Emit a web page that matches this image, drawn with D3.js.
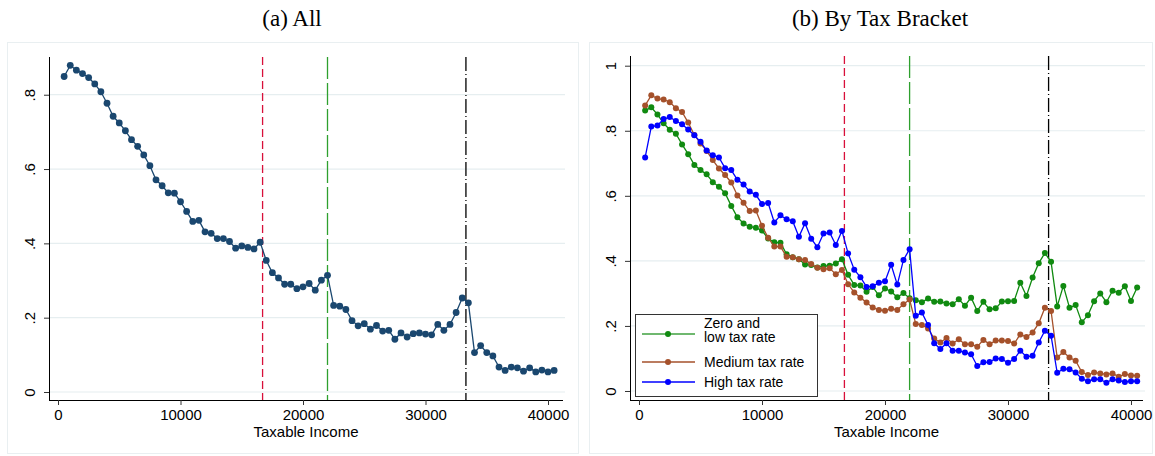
<!DOCTYPE html>
<html>
<head>
<meta charset="utf-8">
<script src="https://cdnjs.cloudflare.com/ajax/libs/d3/7.8.5/d3.min.js"></script>
<style>
  body { margin: 0; background: #fff; }
  svg text { font-family: "Liberation Sans", Arial, sans-serif; fill: #000; }
  .title { font-family: "Liberation Serif", "DejaVu Serif", serif; }
</style>
</head>
<body>
<svg id="chart" width="1155" height="456"></svg>
<script>
// taxable income bins (bin midpoints)
var income = [500,1000,1500,2000,2500,3000,3500,4000,4500,5000,5500,6000,6500,7000,7500,8000,8500,9000,9500,10000,
  10500,11000,11500,12000,12500,13000,13500,14000,14500,15000,15500,16000,16500,17000,17500,18000,18500,19000,19500,20000,
  20500,21000,21500,22000,22500,23000,23500,24000,24500,25000,25500,26000,26500,27000,27500,28000,28500,29000,29500,30000,
  30500,31000,31500,32000,32500,33000,33500,34000,34500,35000,35500,36000,36500,37000,37500,38000,38500,39000,39500,40000,40500];

// (a) all
var allShare = [0.849,0.879,0.866,0.857,0.846,0.829,0.808,0.777,0.742,0.724,0.703,0.679,0.661,0.638,0.609,0.571,0.555,0.536,0.535,0.512,
  0.486,0.459,0.462,0.431,0.427,0.413,0.413,0.405,0.387,0.393,0.389,0.385,0.403,0.354,0.321,0.307,0.290,0.290,0.278,0.283,
  0.292,0.274,0.301,0.314,0.233,0.231,0.222,0.192,0.178,0.184,0.169,0.179,0.164,0.166,0.142,0.159,0.148,0.157,0.159,0.156,
  0.154,0.182,0.166,0.182,0.214,0.253,0.240,0.106,0.125,0.106,0.097,0.067,0.058,0.067,0.065,0.056,0.065,0.054,0.059,0.054,0.058];

// (b) by tax bracket
var lowRate = [0.862,0.872,0.850,0.823,0.803,0.791,0.758,0.728,0.695,0.679,0.666,0.642,0.628,0.608,0.569,0.534,0.515,0.505,0.502,0.493,
  0.469,0.457,0.456,0.420,0.411,0.405,0.389,0.387,0.380,0.384,0.385,0.392,0.405,0.357,0.326,0.324,0.305,0.320,0.294,0.315,
  0.306,0.288,0.301,0.285,0.279,0.273,0.284,0.274,0.275,0.269,0.267,0.282,0.262,0.287,0.246,0.274,0.251,0.254,0.275,0.276,
  0.277,0.333,0.292,0.349,0.393,0.424,0.397,0.260,0.323,0.256,0.264,0.211,0.233,0.276,0.300,0.273,0.308,0.302,0.322,0.277,0.318];
var mediumRate = [0.878,0.909,0.899,0.896,0.888,0.869,0.858,0.825,0.787,0.761,0.738,0.710,0.684,0.664,0.641,0.601,0.579,0.553,0.555,0.508,
  0.471,0.444,0.444,0.413,0.411,0.405,0.403,0.390,0.379,0.374,0.377,0.359,0.372,0.328,0.303,0.287,0.272,0.257,0.249,0.247,
  0.253,0.249,0.267,0.281,0.206,0.203,0.192,0.161,0.149,0.163,0.146,0.159,0.144,0.144,0.136,0.157,0.144,0.155,0.155,0.154,
  0.146,0.174,0.166,0.180,0.208,0.256,0.246,0.103,0.120,0.103,0.093,0.058,0.049,0.057,0.054,0.051,0.054,0.044,0.052,0.048,0.047];
var highRate = [0.718,0.813,0.816,0.836,0.842,0.830,0.820,0.804,0.786,0.766,0.739,0.725,0.718,0.685,0.679,0.649,0.635,0.613,0.603,0.575,
  0.578,0.518,0.540,0.528,0.522,0.474,0.516,0.468,0.442,0.484,0.487,0.449,0.492,0.423,0.373,0.350,0.320,0.322,0.333,0.337,
  0.388,0.327,0.403,0.436,0.231,0.241,0.203,0.147,0.129,0.147,0.124,0.124,0.118,0.113,0.077,0.088,0.089,0.100,0.098,0.087,
  0.098,0.124,0.105,0.108,0.149,0.185,0.170,0.056,0.068,0.067,0.057,0.038,0.030,0.036,0.036,0.025,0.036,0.032,0.028,0.030,0.030];

var seriesNames = ["Zero and\nlow tax rate", "Medium tax rate", "High tax rate"];
var seriesColors = ["#108a10", "#a5512b", "#0000ff"];

// bracket thresholds
var thresholds = [16700, 22000, 33300];
var thresholdColors = ["#d8103a", "#2ea02e", "#000000"];
var thresholdDash = ["8,4", "22,4", "14,3,1,3"];

var xTicks = [0, 10000, 20000, 30000, 40000];
var yTicksA = [0, 0.2, 0.4, 0.6, 0.8];
var yTicksB = [0, 0.2, 0.4, 0.6, 0.8, 1];
var yTickLabel = function (d) { return d === 0 ? "0" : d === 1 ? "1" : String(d).replace("0.", "."); };

var svg = d3.select("#chart");

function drawPanel(p) {
  var g = svg.append("g");

  // outer frame
  g.append("rect")
    .attr("x", p.frame[0] + 0.5).attr("y", p.frame[1] + 0.5)
    .attr("width", p.frame[2]).attr("height", p.frame[3])
    .attr("fill", "#fff").attr("stroke", "#e9eff1");

  g.append("text").attr("class", "title")
    .attr("x", p.titleX).attr("y", 26)
    .attr("text-anchor", "middle")
    .style("font-size", "23px")
    .text(p.title);

  var x = d3.scaleLinear().domain(p.xDomain).range([p.left, p.right]);
  var y = d3.scaleLinear().domain(p.yDomain).range([p.bottom, p.top]);

  // grid
  g.selectAll("line.grid").data(p.yTicks).enter().append("line")
    .attr("class", "grid")
    .attr("x1", p.left).attr("x2", p.right + 2)
    .attr("y1", function (d) { return y(d); }).attr("y2", function (d) { return y(d); })
    .attr("stroke", "#e6eef0").attr("stroke-width", 1.2);

  // y axis, labels rotated like stata
  var yAxis = d3.axisLeft(y).tickValues(p.yTicks).tickFormat(yTickLabel).tickSizeOuter(0).tickSize(5);
  var ya = g.append("g").attr("transform", "translate(" + p.left + ",0)").call(yAxis);
  ya.selectAll(".tick text")
    .attr("x", 0).attr("dy", null)
    .attr("text-anchor", "middle")
    .attr("transform", "translate(-14,0) rotate(-90)")
    .attr("dy", "0em")
    .style("font-size", "15px");
  ya.select(".domain").attr("d", "M0.5," + p.top + "V" + p.bottom).attr("stroke", "#000");

  var xAxis = d3.axisBottom(x).tickValues(xTicks).tickFormat(d3.format("d")).tickSizeOuter(0).tickSize(5).tickPadding(4);
  var xa = g.append("g").attr("transform", "translate(0," + p.bottom + ")").call(xAxis);
  xa.selectAll("text").style("font-size", "15px");
  xa.select(".domain").attr("d", "M" + p.left + ",0.5H" + p.right).attr("stroke", "#000");
  ya.selectAll(".tick line").attr("stroke", "#333");
  xa.selectAll(".tick line").attr("stroke", "#333");

  g.append("text")
    .attr("x", (p.left + p.right) / 2).attr("y", 437)
    .attr("text-anchor", "middle")
    .style("font-size", "15px")
    .text("Taxable Income");

  // bracket lines
  g.selectAll("line.thr").data(thresholds).enter().append("line")
    .attr("class", "thr")
    .attr("x1", function (d) { return x(d); }).attr("x2", function (d) { return x(d); })
    .attr("y1", p.top).attr("y2", p.bottom)
    .attr("stroke", function (d, i) { return thresholdColors[i]; })
    .attr("stroke-width", 1.3)
    .attr("stroke-dasharray", function (d, i) { return thresholdDash[i]; });

  var line = d3.line()
    .x(function (d) { return x(d[0]); })
    .y(function (d) { return y(d[1]); });

  p.series.forEach(function (s) {
    var pts = income.map(function (v, i) { return [v, s.values[i]]; });
    g.append("path").datum(pts)
      .attr("d", line).attr("fill", "none")
      .attr("stroke", s.color).attr("stroke-width", 1.3);
    g.selectAll(null).data(pts).enter().append("circle")
      .attr("cx", function (d) { return x(d[0]); })
      .attr("cy", function (d) { return y(d[1]); })
      .attr("r", p.r).attr("fill", s.color);
  });

  return { g: g, x: x, y: y };
}

// panel (a)
drawPanel({
  frame: [7, 42, 571, 411],
  title: "(a) All", titleX: 292,
  left: 49, right: 563, top: 57, bottom: 400,
  xDomain: [-735, 41224], yDomain: [-0.0215, 0.9015],
  yTicks: yTicksA, r: 3.4,
  series: [{ values: allShare, color: "#1a476f" }]
});

// panel (b)
var pb = drawPanel({
  frame: [589, 42, 563, 411],
  title: "(b) By Tax Bracket", titleX: 880,
  left: 630, right: 1143, top: 56, bottom: 400,
  xDomain: [-732, 40976], yDomain: [-0.0277, 1.0298],
  yTicks: yTicksB, r: 3,
  series: [
    { values: lowRate, color: seriesColors[0] },
    { values: mediumRate, color: seriesColors[1] },
    { values: highRate, color: seriesColors[2] }
  ]
});

// legend
var leg = pb.g.append("g").attr("transform", "translate(635,314)");
leg.append("rect").attr("x", 0.5).attr("y", 0.5).attr("width", 182).attr("height", 82)
  .attr("fill", "#fff").attr("stroke", "#333");
var rowY = [20, 48, 68];
seriesNames.forEach(function (name, i) {
  var ly = rowY[i];
  leg.append("line").attr("x1", 7).attr("x2", 60).attr("y1", ly).attr("y2", ly)
    .attr("stroke", seriesColors[i]).attr("stroke-width", 1.3).attr("opacity", i === 0 ? 0.8 : 1);
  leg.append("circle").attr("cx", 33).attr("cy", ly).attr("r", 3).attr("fill", seriesColors[i]);
  var lines = name.split("\n");
  var t = leg.append("text").attr("x", 69).style("font-size", "14px");
  lines.forEach(function (l, j) {
    t.append("tspan").attr("x", 69)
      .attr("y", lines.length > 1 ? ly - 6 + j * 14 : ly + 5)
      .text(l);
  });
});
</script>
</body>
</html>
